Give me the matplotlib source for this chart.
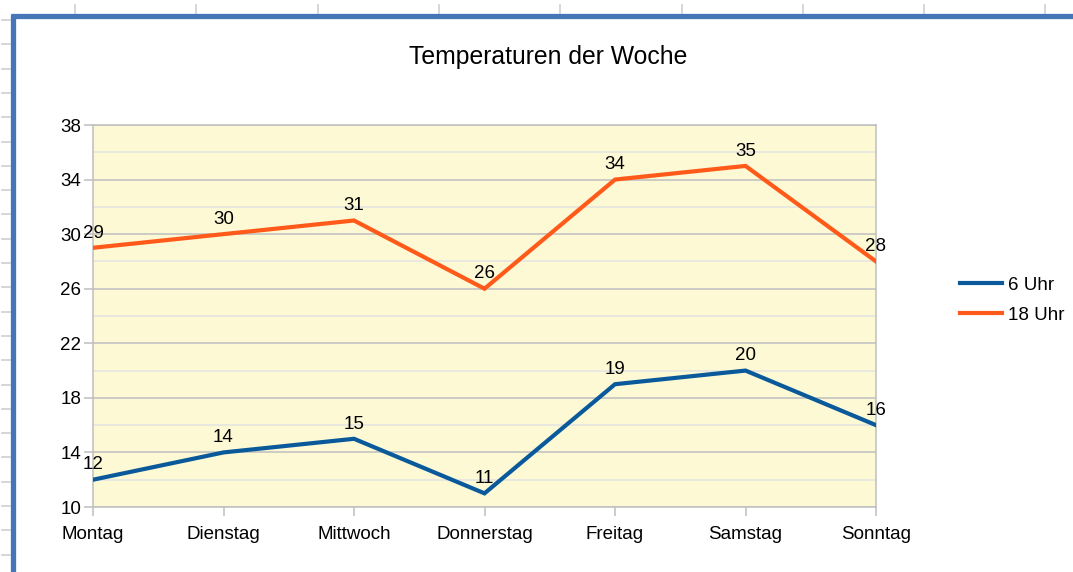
import matplotlib
matplotlib.use("Agg")
import matplotlib.pyplot as plt
from matplotlib.lines import Line2D

# Weekly temperatures
days = ["Montag", "Dienstag", "Mittwoch", "Donnerstag", "Freitag", "Samstag", "Sonntag"]
temp_6 = [12, 14, 15, 11, 19, 20, 16]
temp_18 = [29, 30, 31, 26, 34, 35, 28]
series_names = ["6 Uhr", "18 Uhr"]
y_ticks = [10, 14, 18, 22, 26, 30, 34, 38]
title = "Temperaturen der Woche"

plt.rcParams["font.family"] = ["Liberation Sans", "DejaVu Sans"]

W, H = 1073, 572
fig = plt.figure(figsize=(W / 100, H / 100), dpi=100)
fig.patch.set_facecolor("white")

def fx(px):
    return px / W

def fy(py):
    return 1 - py / H

# ruler ticks along the top and left edges
ruler_c = "#d0d0d0"
for k in range(9):
    x = 75 + 121.3 * k
    fig.add_artist(Line2D([fx(x), fx(x)], [fy(5), fy(13)], color=ruler_c, lw=1.2))
for k in range(23):
    y = 20 + 24.3 * k
    fig.add_artist(Line2D([fx(2), fx(10)], [fy(y), fy(y)], color=ruler_c, lw=1.2))

# selection frame
frame_c = "#4577b8"
fig.add_artist(Line2D([fx(11), fx(1073)], [fy(15.5), fy(15.5)], color=frame_c, lw=3.8, solid_capstyle="butt"))
fig.add_artist(Line2D([fx(13), fx(13)], [fy(13.5), fy(572)], color=frame_c, lw=3.8, solid_capstyle="butt"))

ax = fig.add_axes([fx(93), fy(507), fx(876) - fx(93), fy(125) - fy(507)])
ax.set_facecolor("#fdf9d5")

x = list(range(len(days)))
blue = "#0a5a9b"
orange = "#ff5a1a"
ax.plot(x, temp_6, color=blue, lw=3.0, label=series_names[0], solid_joinstyle="miter", zorder=3)
ax.plot(x, temp_18, color=orange, lw=3.0, label=series_names[1], solid_joinstyle="miter", zorder=3)

fs = 13.5
for vals in (temp_6, temp_18):
    for xi, v in zip(x, vals):
        ax.annotate(str(v), (xi, v), xytext=(0, 4.5), textcoords="offset points",
                    ha="center", va="bottom", fontsize=fs, color="black", zorder=4)

ax.set_xlim(0, len(days) - 1)
ax.set_ylim(10, 38)
ax.set_yticks(y_ticks)
ax.set_yticks(range(12, 38, 4), minor=True)
ax.set_xticks(x)
ax.set_xticklabels(days)

grid_c = "#bfbfbf"
ax.grid(True, axis="y", which="major", color=grid_c, lw=1.1, zorder=1)
ax.grid(True, axis="y", which="minor", color="#e3e3e3", lw=1.1, zorder=1)
ax.grid(False, axis="x")
for s in ax.spines.values():
    s.set_color(grid_c)
    s.set_linewidth(1.1)

ax.tick_params(axis="both", which="major", color=grid_c, length=6.5, width=1.1,
               labelsize=fs, labelcolor="black", pad=2)
ax.tick_params(axis="y", which="minor", length=0)
ax.tick_params(axis="x", pad=7)

fig.text(fx(548), fy(57), title, ha="center", va="center", fontsize=17.8)

leg = fig.legend(handles=ax.get_lines(), labels=series_names, loc="center left",
                 bbox_to_anchor=(fx(960), fy(300)), frameon=False, fontsize=fs,
                 borderpad=0, borderaxespad=0, handlelength=2.25,
                 handletextpad=0.32, labelspacing=0.68)

fig.savefig("out.png", dpi=100, facecolor="white")
